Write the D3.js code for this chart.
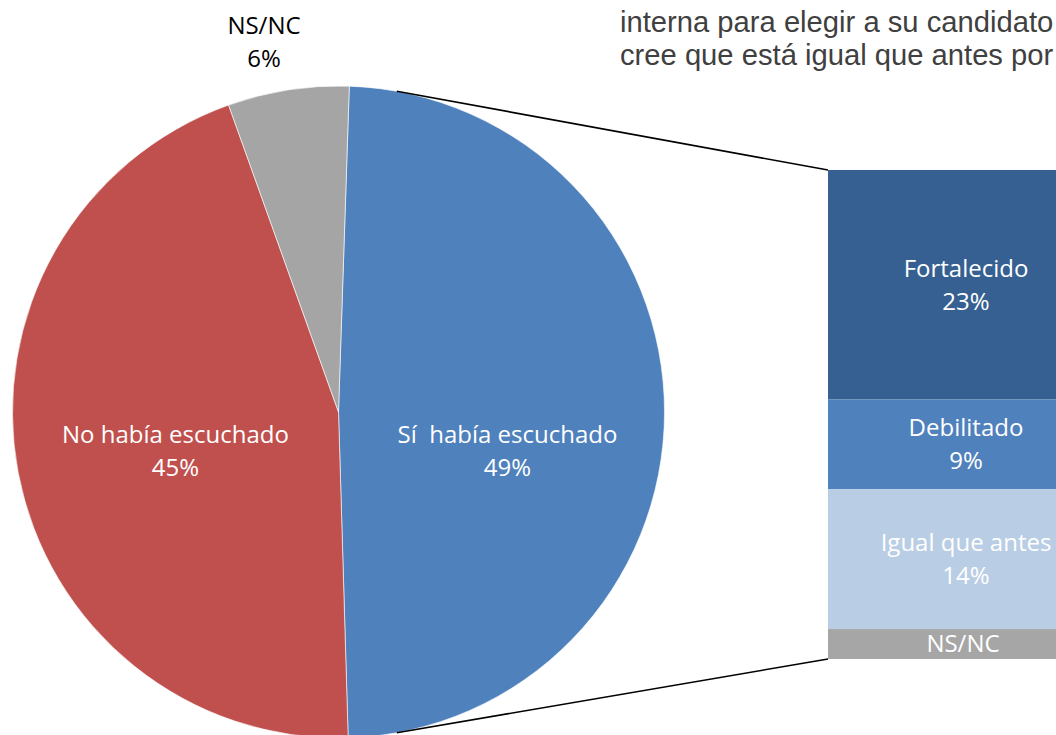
<!DOCTYPE html>
<html>
<head>
<meta charset="utf-8">
<script src="https://cdn.jsdelivr.net/npm/d3@7"></script>
<style>
  html, body { margin: 0; padding: 0; background: #fff; overflow: hidden; }
  svg { display: block; }
  text { white-space: pre; }
</style>
</head>
<body>
<svg id="chart" width="1056" height="735"></svg>
<script>
// ---- data ----
const pieCategories = ["Sí  había escuchado", "No había escuchado", "NS/NC"];
const pieValues = [49, 45, 6];
const pieColors = ["#4F81BD", "#C0504D", "#A5A5A5"];

const barCategories = ["Fortalecido", "Debilitado", "Igual que antes", "NS/NC"];
const barValues = [23, 9, 14, 3];
const barColors = ["#376092", "#4F81BD", "#B9CDE5", "#A6A6A6"];

const titleLines = ["interna para elegir a su candidato", "cree que está igual que antes por"];

// ---- layout ----
const svg = d3.select("#chart");
const cx = 338.5, cy = 412, R = 326;
const rad = Math.PI / 180;
const startA = 1.9 * rad;

const pie = d3.pie().sort(null).startAngle(startA).endAngle(startA + 2 * Math.PI);
const arcs = pie(pieValues);
const arcGen = d3.arc().innerRadius(0).outerRadius(R);

const g = svg.append("g").attr("transform", `translate(${cx},${cy})`);
g.selectAll("path.slice").data(arcs).enter().append("path")
  .attr("class", "slice")
  .attr("d", arcGen)
  .attr("fill", (d, i) => pieColors[i])
  .attr("stroke", "#ffffff")
  .attr("stroke-width", 0.6);

// bar (stacked column)
const barX = 828, barW = 276;
const barTop = 170, barBottom = 659;
const total = d3.sum(barValues);
const y = d3.scaleLinear().domain([0, total]).range([barTop, barBottom]);
const stackStarts = barValues.map((v, i) => d3.sum(barValues.slice(0, i)));

svg.selectAll("rect.seg").data(barValues).enter().append("rect")
  .attr("class", "seg")
  .attr("x", barX)
  .attr("y", (d, i) => y(stackStarts[i]))
  .attr("width", barW)
  .attr("height", d => y(d) - y(0))
  .attr("fill", (d, i) => barColors[i]);

// connector lines from pie edge to bar corners
const connA1 = 10.3 * rad, connA2 = 169.7 * rad;
function pt(a, r) { return [cx + r * Math.sin(a), cy - r * Math.cos(a)]; }
const p1 = pt(connA1, R), p2 = pt(connA2, R);
svg.append("line").attr("x1", p1[0]).attr("y1", p1[1]).attr("x2", barX).attr("y2", y(0))
  .attr("stroke", "#000").attr("stroke-width", 1.6);
svg.append("line").attr("x1", p2[0]).attr("y1", p2[1]).attr("x2", barX).attr("y2", y(total))
  .attr("stroke", "#000").attr("stroke-width", 1.6);

// labels
const labelFont = "'Open Sans', 'Noto Sans', sans-serif";
const labelArc = d3.arc().innerRadius(169).outerRadius(169);
const lineGap = 33;
function twoLine(sel, x, yc, l1, l2, color) {
  const t = sel.append("text")
    .attr("x", x).attr("y", yc)
    .attr("text-anchor", "middle")
    .attr("font-family", labelFont)
    .attr("font-size", 24)
    .attr("fill", color);
  t.append("tspan").attr("x", x).attr("y", yc - lineGap / 2).attr("dy", "0.35em").text(l1);
  if (l2 !== null) t.append("tspan").attr("x", x).attr("y", yc + lineGap / 2).attr("dy", "0.35em").text(l2);
}
// inside labels
[0, 1].forEach(i => {
  const c = labelArc.centroid(arcs[i]);
  twoLine(svg, cx + c[0] + (i === 1 ? 3 : 0), cy + 39, pieCategories[i], pieValues[i] + "%", "#ffffff");
});
// outside label for NS/NC
twoLine(svg, 264, 42, pieCategories[2], pieValues[2] + "%", "#000000");

// bar labels
barValues.forEach((v, i) => {
  const yc = (y(stackStarts[i]) + y(stackStarts[i] + v)) / 2;
  const xc = barX + barW / 2;
  if (i === barValues.length - 1) {
    twoLine(svg, xc - 3, yc + lineGap / 2, barCategories[i], null, "#ffffff");
  } else {
    twoLine(svg, xc, yc, barCategories[i], v + "%", "#ffffff");
  }
});

// title text (cropped)
const title = svg.append("text")
  .attr("font-family", "'Liberation Sans', Arial, sans-serif")
  .attr("font-size", 29.2)
  .attr("fill", "#404040");
titleLines.forEach((l, i) => {
  title.append("tspan").attr("x", 620).attr("y", 32 + i * 33).text(l);
});
</script>
</body>
</html>
